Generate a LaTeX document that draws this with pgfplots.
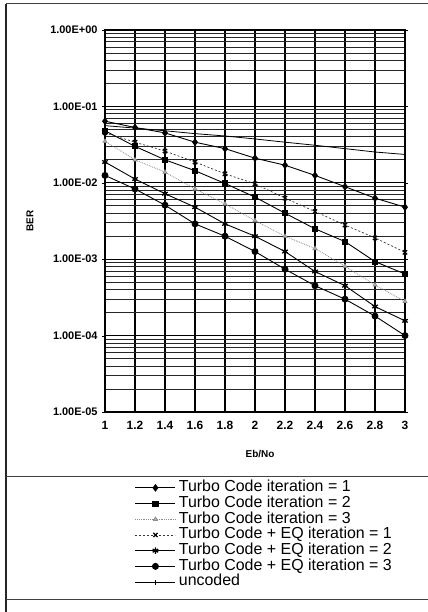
\documentclass[border=0pt]{standalone}
\usepackage{pgfplots}
\pgfplotsset{compat=1.18}
\usepackage{fontspec}
\setmainfont{Liberation Sans}
\begin{document}
\begin{tikzpicture}
\useasboundingbox (0bp,0bp) rectangle (428bp,612bp);
\draw[line width=1.3bp, black!85] (6bp,0bp) -- (6bp,608bp);
\draw[line width=1bp, black!75] (6bp,608bp) -- (428bp,608bp);
\draw[line width=1bp, black!75] (6bp,135bp) -- (428bp,135bp);
\draw[line width=1bp, black!75] (6bp,12bp) -- (428bp,12bp);
\begin{axis}[
  at={(105bp,200bp)}, anchor=south west,
  scale only axis, width=300bp, height=382bp,
  xmin=1, xmax=3, ymin=1e-5, ymax=1, ymode=log,
  xtick={1,1.2,1.4,1.6,1.8,2,2.2,2.4,2.6,2.8,3},
  xticklabels={1,1.2,1.4,1.6,1.8,2,2.2,2.4,2.6,2.8,3},
  ytick={1e-5,1e-4,1e-3,1e-2,1e-1,1},
  yticklabels={1.00E-05,1.00E-04,1.00E-03,1.00E-02,1.00E-01,1.00E+00},
  grid=both,
  major grid style={black, line width=1.1bp},
  minor grid style={black!85, line width=0.8bp},
  axis line style={black, line width=1.1bp},
  tick style={black},
  tick align=outside, major tick length=3bp, minor tick length=0bp,
  xtick style={draw=none},
  yticklabel style={font=\bfseries\fontsize{11}{12}\selectfont, xshift=-1bp},
  xticklabel style={font=\bfseries\fontsize{12}{13}\selectfont, yshift=-3bp},
  xlabel={Eb/No}, ylabel={BER},
  xlabel style={font=\bfseries\fontsize{10}{11}\selectfont, at={(axis description cs:0.517,0)}, anchor=center, yshift=-42bp},
  ylabel style={font=\bfseries\fontsize{10}{11}\selectfont, at={(axis description cs:0,0.5)}, anchor=center},
  every axis y label/.append style={yshift=75bp},
  legend style={draw=none, fill=none, inner sep=0pt, outer sep=0pt,
    at={(axis description cs:0.1,-0.178)}, anchor=north west,
    font=\fontsize{16}{17}\selectfont, row sep=0pt, column sep=2bp,
    nodes={inner ysep=0.5bp, inner xsep=1bp, text height=11.2bp, text depth=3.5bp}},
  legend cell align=left,
  legend image code/.code={\draw[#1, mark repeat=2, mark phase=2] plot coordinates {(0bp,0bp) (20bp,0bp) (40bp,0bp)};},
]
\addplot[black, line width=0.9bp, mark=diamond*, mark size=3.2bp] coordinates {(1,0.064)(1.2,0.053)(1.4,0.045)(1.6,0.034)(1.8,0.028)(2,0.021)(2.2,0.017)(2.4,0.0125)(2.6,0.0089)(2.8,0.0063)(3,0.0048)};
\addlegendentry{Turbo Code iteration = 1}
\addplot[black, line width=0.9bp, mark=square*, mark size=2.6bp] coordinates {(1,0.048)(1.2,0.030)(1.4,0.020)(1.6,0.0144)(1.8,0.0098)(2,0.0065)(2.2,0.0040)(2.4,0.0025)(2.6,0.0017)(2.8,0.00093)(3,0.00064)};
\addlegendentry{Turbo Code iteration = 2}
\addplot[black!45, line width=0.8bp, densely dotted, mark=triangle*, mark size=2.2bp, mark options={solid, fill=black!25, draw=black!45}] coordinates {(1,0.035)(1.2,0.020)(1.4,0.0138)(1.6,0.0083)(1.8,0.0053)(2,0.0032)(2.2,0.0020)(2.4,0.00138)(2.6,0.00081)(2.8,0.00046)(3,0.00028)};
\addlegendentry{Turbo Code iteration = 3}
\addplot[black!80, line width=0.7bp, dash pattern=on 2bp off 2bp, mark=x, mark size=3bp, mark options={solid, line width=1.2bp, black}] coordinates {(1,0.045)(1.2,0.034)(1.4,0.026)(1.6,0.0187)(1.8,0.0131)(2,0.0097)(2.2,0.0063)(2.4,0.0042)(2.6,0.0028)(2.8,0.0019)(3,0.00123)};
\addlegendentry{Turbo Code + EQ iteration = 1}
\addplot[black, line width=0.9bp, mark=asterisk, mark size=3.2bp, mark options={line width=1.3bp}] coordinates {(1,0.0187)(1.2,0.0112)(1.4,0.0072)(1.6,0.0048)(1.8,0.0029)(2,0.0020)(2.2,0.00126)(2.4,0.00069)(2.6,0.00045)(2.8,0.00024)(3,0.000156)};
\addlegendentry{Turbo Code + EQ iteration = 2}
\addplot[black, line width=0.9bp, mark=*, mark size=3bp] coordinates {(1,0.0125)(1.2,0.0083)(1.4,0.0051)(1.6,0.0029)(1.8,0.0020)(2,0.00126)(2.2,0.00074)(2.4,0.00045)(2.6,0.00030)(2.8,0.00018)(3,0.0001)};
\addlegendentry{Turbo Code + EQ iteration = 3}
\addplot[black, line width=0.8bp, mark=|, mark size=2.5bp] coordinates {(1,0.056)(1.2,0.052)(1.4,0.048)(1.6,0.044)(1.8,0.041)(2,0.0375)(2.2,0.034)(2.4,0.031)(2.6,0.028)(2.8,0.0253)(3,0.0235)};
\addlegendentry{uncoded}
\end{axis}
\end{tikzpicture}
\end{document}
